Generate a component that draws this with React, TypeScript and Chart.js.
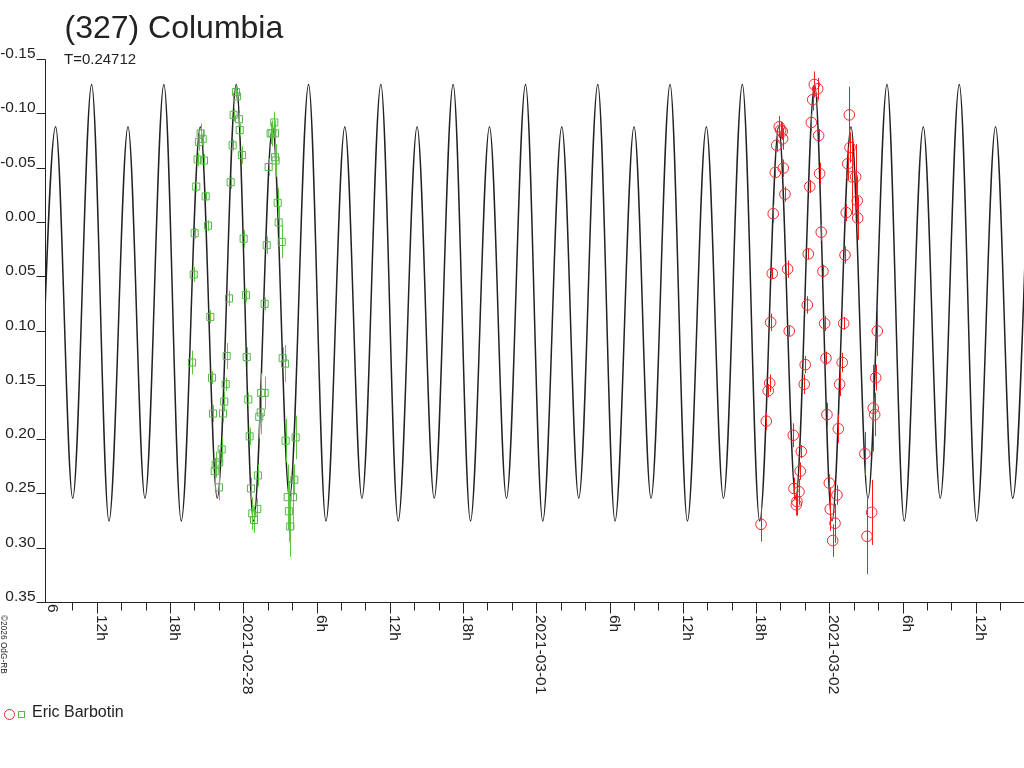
import React, { useEffect, useRef } from "react";
import { Chart, registerables } from "chart.js";

Chart.register(...registerables);

// ---------- texts ----------
const TITLE = "(327) Columbia";
const SUBTITLE = "T=0.24712";
const OBSERVER = "Eric Barbotin";
const COPYRIGHT = "©2026 OdG-RB";

// ---------- axes (x in hours since 2021-02-27 00:00 UT, y in relative magnitude) ----------
const X_MIN = 7.76;
const X_MAX = 87.95;
const Y_MIN = -0.15;
const Y_MAX = 0.35;

const yTickValues = [-0.15, -0.1, -0.05, 0, 0.05, 0.1, 0.15, 0.2, 0.25, 0.3, 0.35];
const yTickLabels = ["-0.15", "-0.10", "-0.05", "0.00", "0.05", "0.10", "0.15", "0.20", "0.25", "0.30", "0.35"];
const xMajorHours = [12, 18, 24, 30, 36, 42, 48, 54, 60, 66, 72, 78, 84];
const xMajorLabels = ["12h", "18h", "2021-02-28", "6h", "12h", "18h", "2021-03-01", "6h", "12h", "18h", "2021-03-02", "6h", "12h"];
const xMinorHours = [10, 14, 16, 20, 22, 26, 28, 32, 34, 38, 40, 44, 46, 50, 52, 56, 58, 62, 64, 68, 70, 74, 76, 80, 82, 86];
const xEdgeLabelHour = 8;
const xEdgeLabel = "6";

// ---------- model light curve: extrema ----------
const curveTime = [
  7.10,
  8.63, 10.03, 11.58, 13.00,
  14.56, 15.95, 17.50, 18.92,
  20.48, 21.87, 23.43, 24.84,
  26.40, 27.79, 29.35, 30.77,
  32.32, 33.72, 35.27, 36.69,
  38.24, 39.64, 41.19, 42.61,
  44.17, 45.56, 47.12, 48.53,
  50.09, 51.48, 53.04, 54.45,
  56.01, 57.40, 58.96, 60.38,
  61.93, 63.33, 64.88, 66.30,
  67.86, 69.25, 70.80, 72.22,
  73.78, 75.17, 76.73, 78.14,
  79.70, 81.09, 82.65, 84.07,
  85.62, 87.02, 88.57,
];
const curveMag = [
  0.275,
  -0.088, 0.254, -0.127, 0.275,
  -0.088, 0.254, -0.127, 0.275,
  -0.088, 0.254, -0.127, 0.275,
  -0.088, 0.254, -0.127, 0.275,
  -0.088, 0.254, -0.127, 0.275,
  -0.088, 0.254, -0.127, 0.275,
  -0.088, 0.254, -0.127, 0.275,
  -0.088, 0.254, -0.127, 0.275,
  -0.088, 0.254, -0.127, 0.275,
  -0.088, 0.254, -0.127, 0.275,
  -0.088, 0.254, -0.127, 0.275,
  -0.088, 0.254, -0.127, 0.275,
  -0.088, 0.254, -0.127, 0.275,
  -0.088, 0.254, -0.127,
];

// ---------- night 1 (green squares) ----------
const greenTime = [
  20.51, 20.37, 20.67, 20.26, 20.78, 20.15, 20.92, 21.11, 20.02, 19.94,
  21.30, 19.80, 21.44, 21.52, 22.23, 22.03, 21.74, 21.66, 22.01, 22.34,
  22.44, 22.56, 22.64, 22.83, 22.97, 23.13, 23.21, 23.40, 23.48, 23.65,
  23.71, 23.89, 24.03, 24.22, 24.28, 24.41, 24.52, 24.63, 24.74, 24.88,
  25.15, 25.20, 25.31, 25.43, 25.47, 25.75, 25.75, 25.92, 26.08, 26.24,
  26.38, 26.60, 26.54, 26.60, 26.65, 26.82, 26.90, 27.15, 27.23, 27.42,
  27.47, 28.29, 28.18, 27.64, 28.07, 27.74, 27.85,
];
const greenMag = [
  -0.082, -0.074, -0.077, -0.058, -0.057, -0.033, -0.024, 0.003, 0.010, 0.048,
  0.087, 0.129, 0.143, 0.176, 0.209, 0.221, 0.223, 0.229, 0.244, 0.176,
  0.165, 0.149, 0.123, 0.070, -0.037, -0.071, -0.099, -0.120, -0.116, -0.095,
  -0.085, -0.062, 0.015, 0.067, 0.124, 0.163, 0.197, 0.245, 0.268, 0.274,
  0.264, 0.233, 0.179, 0.175, 0.157, 0.157, 0.075, 0.021, -0.051, -0.082,
  -0.082, -0.082, -0.092, -0.060, -0.057, -0.018, 0.000, 0.018, 0.125, 0.130,
  0.201, 0.198, 0.237, 0.253, 0.253, 0.266, 0.280,
];
const greenErr = [
  0.009, 0.008, 0.008, 0.006, 0.006, 0.005, 0.004, 0.005, 0.005, 0.007,
  0.006, 0.011, 0.006, 0.008, 0.012, 0.012, 0.012, 0.012, 0.012, 0.008,
  0.009, 0.006, 0.012, 0.007, 0.006, 0.005, 0.006, 0.006, 0.006, 0.006,
  0.006, 0.008, 0.008, 0.006, 0.009, 0.006, 0.008, 0.010, 0.015, 0.012,
  0.010, 0.010, 0.020, 0.020, 0.018, 0.015, 0.006, 0.008, 0.008, 0.010,
  0.012, 0.012, 0.010, 0.015, 0.015, 0.014, 0.015, 0.015, 0.010, 0.017,
  0.020, 0.020, 0.014, 0.030, 0.030, 0.028, 0.028,
];

// ---------- night 2 (red circles) ----------
const redTime = [
  67.90, 68.02, 68.15, 68.18, 67.69, 67.58, 68.23, 68.37, 67.41, 67.33,
  68.59, 67.20, 68.72, 67.12, 67.00, 66.84, 66.41, 69.05, 69.71, 69.62,
  69.11, 69.52, 69.35, 69.30, 69.95, 70.03, 70.20, 70.28, 70.40, 70.53,
  70.64, 70.77, 71.05, 71.13, 71.21, 71.34, 71.48, 71.62, 71.73, 71.81,
  72.00, 72.08, 72.28, 72.47, 72.63, 72.74, 72.85, 73.06, 73.18, 73.29,
  73.39, 73.51, 73.64, 73.70, 73.86, 74.16, 74.29, 74.33, 74.92, 75.09,
  75.47, 75.60, 75.72, 75.80, 75.93,
];
const redMag = [
  -0.088, -0.085, -0.084, -0.077, -0.071, -0.046, -0.050, -0.026, -0.008, 0.047,
  0.043, 0.092, 0.100, 0.148, 0.155, 0.183, 0.278, 0.196, 0.211, 0.229,
  0.245, 0.248, 0.257, 0.260, 0.149, 0.131, 0.076, 0.029, -0.033, -0.092,
  -0.113, -0.127, -0.123, -0.080, -0.045, 0.009, 0.045, 0.093, 0.125, 0.177,
  0.240, 0.264, 0.293, 0.277, 0.251, 0.190, 0.149, 0.129, 0.093, 0.030,
  -0.009, -0.054, -0.099, -0.069, -0.042, -0.042, -0.020, -0.004, 0.213, 0.289,
  0.267, 0.171, 0.177, 0.143, 0.100,
];
const redErr = [
  0.010, 0.008, 0.008, 0.010, 0.006, 0.005, 0.008, 0.007, 0.008, 0.005,
  0.008, 0.008, 0.005, 0.008, 0.006, 0.008, 0.016, 0.011, 0.006, 0.008,
  0.010, 0.012, 0.013, 0.010, 0.009, 0.008, 0.008, 0.005, 0.006, 0.008,
  0.010, 0.012, 0.010, 0.006, 0.010, 0.008, 0.006, 0.007, 0.006, 0.011,
  0.008, 0.020, 0.015, 0.018, 0.009, 0.013, 0.011, 0.009, 0.006, 0.008,
  0.008, 0.015, 0.026, 0.014, 0.035, 0.030, 0.022, 0.020, 0.020, 0.035,
  0.030, 0.040, 0.020, 0.012, 0.023,
];

// ---------- styles ----------
const FONT = '"Liberation Sans", Arial, Helvetica, sans-serif';
const INK = "#222222";
const GREEN = "#55b84a";
const GREEN_BAR = "#5cc83c";
const RED = "#f02828";
const RED_BAR = "#ff1a1a";

const toPoints = (t: number[], m: number[]) => t.map((v, i) => ({ x: v, y: m[i] }));

const errorBarPlugin = {
  id: "errorBars",
  afterDatasetDraw(chart: any, args: any) {
    if (args.index !== 2) return;
    const { ctx, chartArea, scales } = chart;
    const xs = scales.x;
    const ys = scales.y;
    ctx.save();
    ctx.beginPath();
    ctx.rect(chartArea.left, chartArea.top, chartArea.right - chartArea.left, chartArea.bottom - chartArea.top);
    ctx.clip();
    ctx.lineWidth = 1;
    const draw = (t: number[], m: number[], e: number[], color: string) => {
      ctx.strokeStyle = color;
      ctx.beginPath();
      for (let i = 0; i < t.length; i++) {
        const px = Math.round(xs.getPixelForValue(t[i])) + 0.5;
        ctx.moveTo(px, ys.getPixelForValue(m[i] - e[i]));
        ctx.lineTo(px, ys.getPixelForValue(m[i] + e[i]));
      }
      ctx.stroke();
    };
    draw(greenTime, greenMag, greenErr, GREEN_BAR);
    draw(redTime, redMag, redErr, RED_BAR);
    ctx.restore();
  },
};

const axesPlugin = {
  id: "customAxes",
  afterDraw(chart: any) {
    const { ctx, chartArea, scales } = chart;
    const xs = scales.x;
    const ys = scales.y;
    const axisX = Math.round(chartArea.left) + 0.5;
    const axisY = Math.floor(ys.getPixelForValue(Y_MAX)) + 0.5;
    ctx.save();
    ctx.strokeStyle = INK;
    ctx.fillStyle = INK;
    ctx.lineWidth = 1;

    // axis lines
    ctx.beginPath();
    ctx.moveTo(axisX, chartArea.top);
    ctx.lineTo(axisX, axisY);
    ctx.moveTo(axisX, axisY);
    ctx.lineTo(chartArea.right, axisY);
    ctx.stroke();

    // y ticks + labels
    ctx.font = `15.5px ${FONT}`;
    ctx.textAlign = "right";
    ctx.textBaseline = "alphabetic";
    ctx.beginPath();
    yTickValues.forEach((v, i) => {
      const py = Math.floor(ys.getPixelForValue(v)) + 0.5;
      ctx.moveTo(axisX - 9, py);
      ctx.lineTo(axisX, py);
      ctx.fillText(yTickLabels[i], axisX - 10, py - 1.5);
    });
    ctx.stroke();

    // x ticks
    ctx.beginPath();
    xMajorHours.forEach((h) => {
      const px = Math.round(xs.getPixelForValue(h)) + 0.5;
      ctx.moveTo(px, axisY);
      ctx.lineTo(px, axisY + 11);
    });
    xMinorHours.forEach((h) => {
      const px = Math.round(xs.getPixelForValue(h)) + 0.5;
      ctx.moveTo(px, axisY);
      ctx.lineTo(px, axisY + 8);
    });
    ctx.stroke();

    // x labels, rotated clockwise
    ctx.textAlign = "left";
    ctx.textBaseline = "alphabetic";
    const rotLabel = (text: string, h: number, top: number) => {
      const px = Math.round(xs.getPixelForValue(h));
      ctx.save();
      ctx.translate(px, top);
      ctx.rotate(Math.PI / 2);
      ctx.fillText(text, 0, 0);
      ctx.restore();
    };
    xMajorLabels.forEach((lab, i) => rotLabel(lab, xMajorHours[i], axisY + 12.5));
    rotLabel(xEdgeLabel, xEdgeLabelHour, axisY + 1.5);
    ctx.restore();
  },
};

export default function App() {
  const canvasRef = useRef<HTMLCanvasElement | null>(null);

  useEffect(() => {
    const canvas = canvasRef.current;
    if (!canvas) return;
    const chart = new Chart(canvas, {
      type: "scatter",
      data: {
        datasets: [
          {
            label: "night 1",
            data: toPoints(greenTime, greenMag),
            pointStyle: "rect",
            pointRadius: 5,
            borderColor: GREEN,
            backgroundColor: "rgba(0,0,0,0)",
            borderWidth: 1,
            showLine: false,
          },
          {
            label: "night 2",
            data: toPoints(redTime, redMag),
            pointStyle: "circle",
            pointRadius: 5.3,
            borderColor: RED,
            backgroundColor: "rgba(0,0,0,0)",
            borderWidth: 1,
            showLine: false,
          },
          {
            label: "model",
            type: "line",
            data: toPoints(curveTime, curveMag),
            borderColor: INK,
            borderWidth: 1.5,
            pointRadius: 0,
            fill: false,
            showLine: true,
            cubicInterpolationMode: "monotone",
          } as any,
        ],
      },
      options: {
        animation: false,
        responsive: false,
        maintainAspectRatio: false,
        events: [],
        layout: { autoPadding: false, padding: { left: 45, right: 0, top: 59.5, bottom: 165.5 } },
        scales: {
          x: { type: "linear", min: X_MIN, max: X_MAX, display: false },
          y: { type: "linear", min: Y_MIN, max: Y_MAX, reverse: true, display: false },
        },
        plugins: {
          legend: { display: false },
          tooltip: { enabled: false },
          title: { display: false },
        },
      },
      plugins: [errorBarPlugin, axesPlugin],
    } as any);
    return () => chart.destroy();
  }, []);

  const textBase: React.CSSProperties = {
    position: "absolute",
    whiteSpace: "nowrap",
    color: INK,
    fontFamily: FONT,
  };

  return (
    <div
      style={{
        position: "fixed",
        left: 0,
        top: 0,
        width: 1024,
        height: 768,
        background: "#ffffff",
        overflow: "hidden",
      }}
    >
      <canvas
        ref={canvasRef}
        width={1024}
        height={768}
        style={{ position: "absolute", left: 0, top: 0, width: 1024, height: 768 }}
      />
      <div style={{ ...textBase, left: 64.5, top: 11.2, fontSize: 32, lineHeight: "32px" }}>{TITLE}</div>
      <div style={{ ...textBase, left: 64, top: 50.6, fontSize: 15, lineHeight: "15px" }}>{SUBTITLE}</div>
      <div
        style={{
          ...textBase,
          left: 8,
          top: 615,
          fontSize: 8.3,
          lineHeight: "8px",
          transform: "rotate(90deg)",
          transformOrigin: "0 0",
        }}
      >
        {COPYRIGHT}
      </div>
      <div
        style={{
          position: "absolute",
          left: 4,
          top: 708.5,
          width: 9,
          height: 9,
          border: `1px solid ${RED}`,
          borderRadius: "50%",
        }}
      />
      <div
        style={{
          position: "absolute",
          left: 18,
          top: 710.5,
          width: 5,
          height: 5,
          border: `1px solid ${GREEN}`,
        }}
      />
      <div style={{ ...textBase, left: 32, top: 704.2, fontSize: 16, lineHeight: "16px" }}>{OBSERVER}</div>
    </div>
  );
}
